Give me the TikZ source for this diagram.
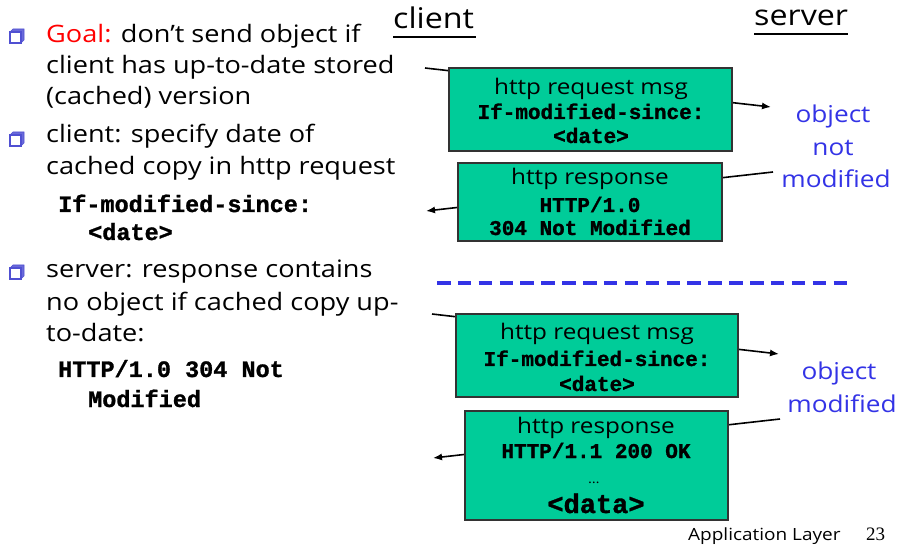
\documentclass[tikz,border=0pt]{standalone}
\usepackage{fontspec}
\setmainfont{Open Sans}[FakeStretch=1.13]
\setmonofont{Liberation Mono}[BoldFeatures={FakeBold=1.2}]
\newfontfamily\numfont{Liberation Serif}
\usetikzlibrary{arrows.meta}
\definecolor{msggreen}{RGB}{0,204,153}
\definecolor{labelblue}{RGB}{51,51,230}
\definecolor{bulletblue}{RGB}{80,80,210}
\begin{document}
\begin{tikzpicture}[x=1pt,y=-1pt,
  bodytext/.style={anchor=base west, inner sep=0pt, font=\fontsize{24}{28}\selectfont},
  codetext/.style={anchor=base west, inner sep=0pt, font=\fontsize{23.5}{26}\selectfont\ttfamily\bfseries},
  titletext/.style={anchor=base west, inner sep=0pt, font=\fontsize{28.5}{32}\selectfont},
  bulletface/.style={draw=bulletblue, line width=1.3pt, fill=white},
  bulletshade/.style={fill=bulletblue!85, draw=bulletblue, line width=0.6pt},
  msgbox/.style={draw=black!80, line width=1.3pt, fill=msggreen, inner sep=0pt},
  boxhead/.style={anchor=base, inner sep=0pt, font=\fontsize{21.5}{24}\selectfont},
  boxcode/.style={anchor=base, inner sep=0pt, font=\fontsize{21}{24}\selectfont\ttfamily\bfseries},
  msgline/.style={draw=black, line width=1.6pt, -{Latex[length=9pt,width=7pt]}},
  sidelabel/.style={anchor=base, inner sep=0pt, text=labelblue, font=\fontsize{23.2}{27}\selectfont},
  divider/.style={draw=labelblue, line width=3.5pt, dash pattern=on 13.5pt off 7.37pt},
  footer/.style={anchor=base west, inner sep=0pt, font=\fontsize{16.8}{20}\selectfont}]
\useasboundingbox[fill=white] (0,0) rectangle (900,545);

% ---- bullet markers: a square with a raised top/right edge
\foreach \n/\y in {b1/43, b2/146, b3/279}{
  \coordinate (\n) at (10,\y);
  \filldraw[bulletshade] (\n) ++(0,-11) -- ++(3,-3) -- ++(11,0) -- ++(0,11) -- ++(-3,3) -- cycle;
  \filldraw[bulletface] (\n) rectangle ++(11,-11);
}

% ---- bullet text
\node[bodytext] (l1) at (46,43) {\textcolor{red}{Goal:} don’t send object if};
\node[bodytext] (l2) at (46,74) {client has up-to-date stored};
\node[bodytext] (l3) at (46,105) {(cached) version};
\node[bodytext] (l4) at (46,143) {client: specify date of};
\node[bodytext] (l5) at (46,175) {cached copy in http request};
\node[codetext] (l6) at (58,212) {If-modified-since:};
\node[codetext] (l7) at (88,240) {<date>};
\node[bodytext] (l8) at (46,278) {server: response contains};
\node[bodytext] (l9) at (46,311) {no object if cached copy up-};
\node[bodytext] (l10) at (46,342) {to-date:};
\node[codetext] (l11) at (58,377) {HTTP/1.0 304 Not};
\node[codetext] (l12) at (88,407) {Modified};

% ---- column titles
\node[titletext] (client) at (393,29) {client};
\node[titletext] (server) at (754,26) {server};
\draw[line width=2.6pt] ([yshift=-8pt]client.base west) -- ([yshift=-8pt,xshift=2pt]client.base east);
\draw[line width=2.6pt] ([yshift=-8pt]server.base west) -- ([yshift=-8pt]server.base east);

% ---- message lines (drawn under the boxes)
\coordinate (r1a) at (425,68);  \coordinate (r1b) at (771,107);
\coordinate (s1a) at (773,172); \coordinate (s1b) at (426,211);
\coordinate (r2a) at (432,314); \coordinate (r2b) at (779,354);
\coordinate (s2a) at (780,419); \coordinate (s2b) at (433,458);
\draw[msgline] (r1a) -- (r1b);
\draw[msgline] (s1a) -- (s1b);
\draw[msgline] (r2a) -- (r2b);
\draw[msgline] (s2a) -- (s2b);

% ---- message boxes
\node[msgbox, minimum width=283pt, minimum height=83pt] (req1) at (590.5,109.5) {};
\node[msgbox, minimum width=264pt, minimum height=78pt] (resp1) at (590,202) {};
\node[msgbox, minimum width=282pt, minimum height=83pt] (req2) at (597,355.5) {};
\node[msgbox, minimum width=263pt, minimum height=109pt] (resp2) at (596.5,465.5) {};

\node[boxhead] (req1a) at (591,95) {http request msg};
\node[boxcode] (req1b) at (591,119) {If-modified-since:};
\node[boxcode] (req1c) at (591,143) {<date>};

\node[boxhead] (resp1a) at (590,185) {http response};
\node[boxcode] (resp1b) at (590,212) {HTTP/1.0};
\node[boxcode] (resp1c) at (590,235) {304 Not Modified};

\node[boxhead] (req2a) at (597,340) {http request msg};
\node[boxcode] (req2b) at (597,366) {If-modified-since:};
\node[boxcode] (req2c) at (597,391) {<date>};

\node[boxhead] (resp2a) at (596,433) {http response};
\node[boxcode] (resp2b) at (596,458) {HTTP/1.1 200 OK};
\node[anchor=base, inner sep=0pt, font=\fontsize{13}{15}\selectfont] (resp2c) at (594,483) {…};
\node[anchor=base, inner sep=0pt, font=\fontsize{27}{30}\selectfont\ttfamily\bfseries] (resp2d) at (596,513) {<data>};

% ---- divider between the two cases
\coordinate (dl) at (437,283); \coordinate (dr) at (847,283);
\draw[divider] (dl) -- (dr);

% ---- server-side outcome labels
\node[sidelabel] (nm1) at (833,123) {object};
\node[sidelabel] (nm2) at (833,156) {not};
\node[sidelabel] (nm3) at (836,188) {modified};
\node[sidelabel] (md1) at (839,380) {object};
\node[sidelabel] (md2) at (842,412) {modified};

% ---- footer
\node[footer] (foot) at (688,540) {Application Layer};
\node[anchor=base west, inner sep=0pt, font=\fontsize{19}{22}\selectfont\numfont] (page) at (866,540) {23};
\end{tikzpicture}
\end{document}
